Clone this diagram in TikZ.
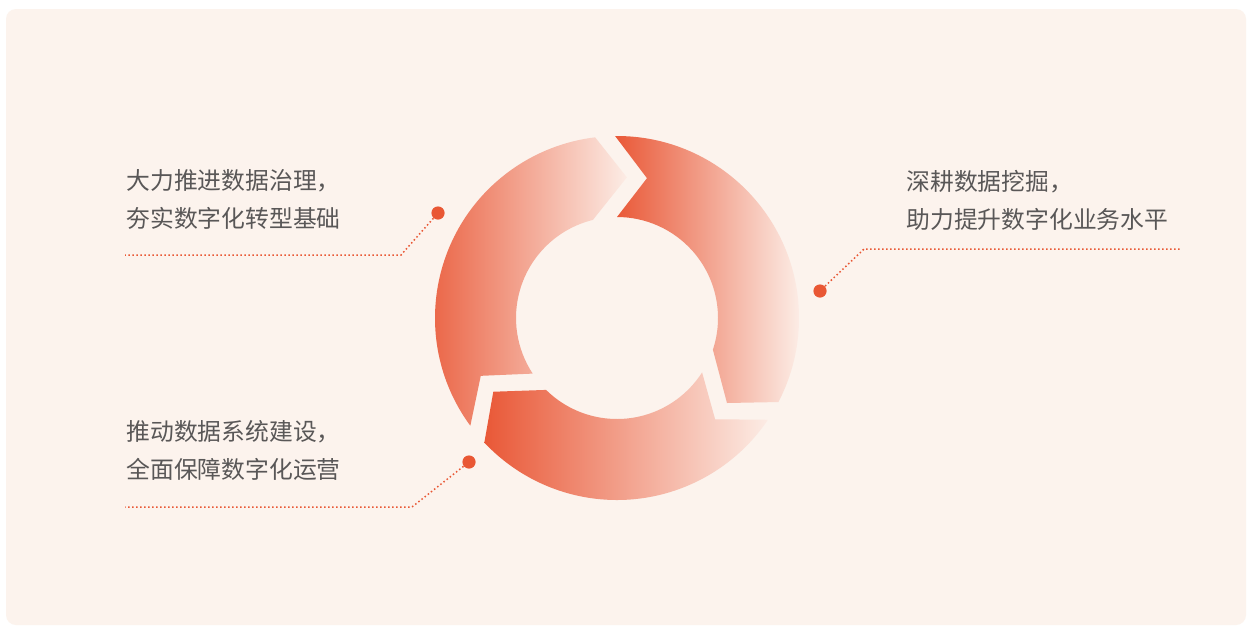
\documentclass[tikz,border=0pt]{standalone}
\usepackage{fontspec}
\newfontfamily\cjk{Noto Sans CJK SC}
\definecolor{bgpeach}{RGB}{252,243,237}
\definecolor{accent}{RGB}{233,87,52}
\definecolor{segdark}{RGB}{233,88,55}
\definecolor{seglight}{RGB}{252,236,229}
\definecolor{txtgray}{RGB}{89,87,87}
\begin{document}
\begin{tikzpicture}[x=0.5pt,y=0.5pt,
  seg/.style={left color=segdark,right color=seglight,draw=none},
  dot/.style={circle,fill=accent,inner sep=0pt,minimum size=6.6pt},
  leader/.style={accent,line width=0.75pt,dash pattern=on 0.75pt off 1.25pt},
  label/.style={text=txtgray,font=\cjk\fontsize{11.9pt}{19pt}\selectfont,align=left,inner sep=0pt}]
\useasboundingbox (0,0) rectangle (1252,629);
\fill[white] (0,0) rectangle (1252,629);
\fill[bgpeach,rounded corners=5pt] (6,4) rectangle (1246,620);
% ring segments
\begin{scope}[shift={(617,311)}]
\shade[seg] (216.3:91pt) arc[start angle=216.3,end angle=96.9,radius=91pt]
  -- (86:70.5pt) -- (103.8:50.5pt) arc[start angle=103.8,end angle=213.4,radius=50.5pt]
  -- (203:74pt) -- cycle;
\shade[seg] (90.6:91pt) arc[start angle=90.6,end angle=-27.5,radius=91pt]
  -- (-37.7:69.5pt) -- (-18.3:50.5pt) arc[start angle=-18.3,end angle=90,radius=50.5pt]
  -- (77.9:71.5pt) -- cycle;
\shade[seg] (-34:91pt) arc[start angle=-34,end angle=-136.8,radius=91pt]
  -- (-149.2:72pt) -- (-134.6:50.5pt) arc[start angle=-134.6,end angle=-32.6,radius=50.5pt]
  -- (-45.9:70.5pt) -- cycle;
\end{scope}
% leaders and dots
\node[dot] (d1) at (438,416) {};
\node[dot] (d2) at (820,338) {};
\node[dot] (d3) at (469,167) {};
\coordinate (k1) at (401,374); \coordinate (e1) at (125,374);
\coordinate (k2) at (864,380); \coordinate (e2) at (1180,380);
\coordinate (k3) at (412,122); \coordinate (e3) at (125,122);
\draw[leader] (d1) -- (k1) -- (e1);
\draw[leader] (d2) -- (k2) -- (e2);
\draw[leader] (d3) -- (k3) -- (e3);
% labels (base anchor = baseline of the last line)
\node[label,anchor=base west] (t1) at (126,402) {大力推进数据治理，\\夯实数字化转型基础};
\node[label,anchor=base west] (t2) at (906,401) {深耕数据挖掘，\\助力提升数字化业务水平};
\node[label,anchor=base west] (t3) at (126,151) {推动数据系统建设，\\全面保障数字化运营};
\end{tikzpicture}
\end{document}
